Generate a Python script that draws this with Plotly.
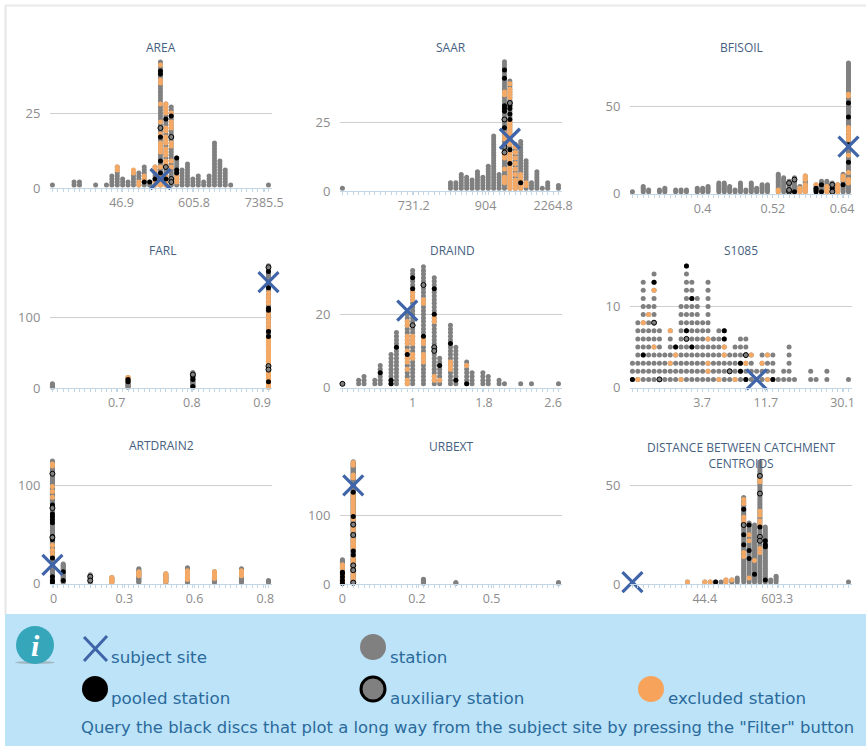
import plotly.graph_objects as go

# ---------- data: columns, stack heights, and the rows that carry a status ----------
AREA_cols = [0,4,5,8,10,11,12,13,14,15,16,17,18,19,20,21,22,23,24,25,26,27,28,29,30,31,32,33,40]
AREA_counts = [1,2,2,1,1,4,7,3,2,5,5,7,2,7,42,28,27,10,6,8,3,4,2,4,15,9,6,1,1]
AREA_pooled = {17:[2],18:[2],19:[3],20:[39,38,17,9,5],21:[23,3],23:[10,6,5],22:[24]}
AREA_aux = {20:[20],21:[7],22:[17,3,2]}
AREA_excl = {12:[7,6],15:[6,5],16:[2,1],17:[4,3],19:[7,6,2,1],20:[41,36,35,28,22,18,15,14,13,12,7,4,3,2,1],
             21:[28,27,26,25,20,19,17,16,15,13,12,11,9,8,4,2,1],22:[25,22,21,20,15,14,9,7],23:[4,3,2]}
AREA_subject = (20, 3)

SAAR_cols = [0,20,21,22,23,24,25,26,27,28,29,30,31,32,33,34,35,36,37,38,40]
SAAR_counts = [1,3,3,6,5,4,7,5,9,20,6,47,40,17,18,11,3,7,1,3,2]
SAAR_pooled = {30:[44,41,31,30,29,26,23],31:[31,30,28,26,15,10],33:[3]}
SAAR_aux = {30:[26,16,14],31:[32]}
SAAR_excl = {30:[36,35,21,20,19,13,12,8,5,4,3],31:[39,37,36,35,34,25,24,23,22,21,20,19,18,17,14,13,12,11,9,8,7,6,5,4,3,2,1],
             32:[16,14,12,10,8,6,4,3,2,1],33:[6,5,4,2,1],34:[3,2]}
SAAR_subject = (31, 19)

BFISOIL_cols = [0,2,3,5,6,8,9,10,12,13,14,16,17,18,19,20,21,22,23,24,25,27,28,29,30,31,32,34,35,36,37,38,39,40]
BFISOIL_counts = [1,4,2,2,3,2,2,2,3,3,4,6,6,4,2,6,2,6,3,5,5,11,9,7,9,4,10,5,7,7,6,5,11,75]
BFISOIL_pooled = {30:[1],34:[1,2,3],35:[1,5],37:[3],39:[5],40:[18,44,52,28]}
BFISOIL_aux = {29:[1,2,6],30:[8],37:[1,5]}
BFISOIL_excl = {27:[2,1],31:[3,2,1],32:[10,9,8,5,4,3,2,1],34:[5],36:[4,3,2,1],38:[5,4,3,2,1],39:[10,9,8],
                40:[57,56,38,37,35,33,31,22,12,8,7,6]}
BFISOIL_subject = (40, 27)

FARL_cols = [0,14,26,40]
FARL_counts = [6,15,22,173]
FARL_pooled = {14:[12,9],26:[2,12,17],40:[165,142,113,110,80,73,9]}
FARL_aux = {26:[19],40:[171,31,26]}
FARL_excl = {14:[15,14,13],
             40:[135,130,125,120,105,100,95,90,85,70,68,66,64,62,60,58,56,54,52,50,48,46,44,42,40,38,36,34,32,22,20,18,16,14,12,7,5,3,1]}
FARL_subject = (40, 150)

DRAIND_cols = [0,3,4,6,7,9,10,12,13,15,17,18,20,21,23,24,26,27,29,30,33,35,40]
DRAIND_counts = [1,2,3,2,6,9,15,20,32,33,30,8,17,11,7,4,4,3,2,1,1,1,1]
DRAIND_pooled = {7:[4],9:[2,1],10:[11],12:[9],13:[30,27],15:[14],17:[27,20],18:[6],20:[12],21:[2],23:[1]}
DRAIND_aux = {0:[1],13:[17],15:[28],17:[11,10]}
DRAIND_excl = {12:[18,17,14,13,12,10,8,7,5,2,1],13:[26,25,24,14,13,12,9,8],15:[24,23,13,12,9,8,7],
               17:[19,18,3,2],18:[2],20:[7,6,5],23:[6]}
DRAIND_subject = (12, 21)

S1085_cols = [0,1,2,3,4,5,6,7,8,9,10,11,12,13,14,15,16,17,18,19,20,21,22,23,24,25,26,27,28,29,30,33,34,36,40]
S1085_counts = [3,8,13,10,14,7,4,7,5,10,15,13,11,8,13,6,7,7,4,5,6,6,4,2,4,4,4,1,2,5,1,2,1,2,1]
S1085_pooled = {10:[15,7],4:[13],11:[11,5],17:[7,6],8:[5],2:[4],20:[3,2],0:[1],21:[1],26:[1]}
S1085_aux = {4:[8],10:[6],21:[4],18:[2],5:[1]}
S1085_excl = {4:[12,5],3:[9],2:[8],7:[7,3],14:[6,3,2],17:[5,4],8:[4],22:[4],25:[4,1],21:[3],24:[3],1:[1],9:[1],16:[1],19:[1]}
S1085_subject = (23, 1)

ARTDRAIN2_cols = [0,2,7,11,16,21,25,30,35,40]
ARTDRAIN2_counts = [125,20,9,6,15,10,16,12,15,3]
ARTDRAIN2_pooled = {0:[80,71,68,65,62,48,45,26,7,3,1],2:[12,3]}
ARTDRAIN2_aux = {0:[112,77,47],7:[7,3]}
ARTDRAIN2_excl = {0:[122,120,99,94,88,39,34,30],11:[6,5,4,3,2,1],16:[12,11,10,9,8],21:[10,9,7,6,5,3,2],
                  25:[13,12,11,9,8,7,5,4],30:[12,11,10,9,8,7,6,5],35:[13,12,11,9,8]}
ARTDRAIN2_subject = (0, 19)

URBEXT_cols = [0,2,15,21,40]
URBEXT_counts = [35,177,7,2,2]
URBEXT_pooled = {0:[17,15,10,5,1],2:[133,98,48,42]}
URBEXT_aux = {2:[86,71,27,20,2]}
URBEXT_excl = {0:[28,25,22,12,8,3],
               2:[176,172,158,154,130,126,122,118,114,110,106,102,94,82,78,64,62,60,58,56,54,52,38,34,30,24,16,12,8,5]}
URBEXT_subject = (2, 143)

DISTANCE_cols = [10.2,13.4,14.4,15.4,16.4,17.3,18.4,19.4,20.6,21.6,22.6,23.6,24.6,25.6,26.6,40]
DISTANCE_counts = [1,1,1,1,1,2,2,3,44,31,30,62,29,2,4,1]
DISTANCE_pooled = {15.4:[1],20.6:[38,25,20],21.6:[30,17,13],22.6:[5],23.6:[29],24.6:[22,20,19,2]}
DISTANCE_aux = {20.6:[30],23.6:[55,46,24,22]}
DISTANCE_excl = {10.2:[1],13.4:[1],14.4:[1],17.3:[2,1],18.4:[2],20.6:[43,41,34,32,16,14],21.6:[25,22,3],
                 22.6:[12],23.6:[53,52,37,35,32,30,18,16]}
DISTANCE_subject = (0, 1)

TITLES = ["AREA","SAAR","BFISOIL","FARL","DRAIND","S1085","ARTDRAIN2","URBEXT",
          "DISTANCE BETWEEN CATCHMENT<br>CENTROIDS"]
GRID_VALUES = [25,25,50,100,20,10,100,100,50]
TICK_LABELS = [["46.9","605.8","7385.5"],["731.2","904","2264.8"],["0.4","0.52","0.64"],
               ["0.7","0.8","0.9"],["1","1.8","2.6"],["3.7","11.7","30.1"],
               ["0","0.3","0.6","0.8"],["0","0.2","0.5"],["44.4","603.3"]]
TICK_POSITIONS = [[12.8,26.2,39.2],[13.2,26.5,39],[13,26,38.8],
                  [11.9,25.8,38.8],[13,26.2,39],[12.9,24.7,38.9],
                  [0.2,13.3,26.3,39.4],[0,13.8,27.6],[13.4,26.8]]

PANELS = [
 (AREA_cols,AREA_counts,AREA_pooled,AREA_aux,AREA_excl,AREA_subject),
 (SAAR_cols,SAAR_counts,SAAR_pooled,SAAR_aux,SAAR_excl,SAAR_subject),
 (BFISOIL_cols,BFISOIL_counts,BFISOIL_pooled,BFISOIL_aux,BFISOIL_excl,BFISOIL_subject),
 (FARL_cols,FARL_counts,FARL_pooled,FARL_aux,FARL_excl,FARL_subject),
 (DRAIND_cols,DRAIND_counts,DRAIND_pooled,DRAIND_aux,DRAIND_excl,DRAIND_subject),
 (S1085_cols,S1085_counts,S1085_pooled,S1085_aux,S1085_excl,S1085_subject),
 (ARTDRAIN2_cols,ARTDRAIN2_counts,ARTDRAIN2_pooled,ARTDRAIN2_aux,ARTDRAIN2_excl,ARTDRAIN2_subject),
 (URBEXT_cols,URBEXT_counts,URBEXT_pooled,URBEXT_aux,URBEXT_excl,URBEXT_subject),
 (DISTANCE_cols,DISTANCE_counts,DISTANCE_pooled,DISTANCE_aux,DISTANCE_excl,DISTANCE_subject),
]

# ---------- layout geometry (pixels) ----------
W, H = 866, 746
LEFT = [50, 340, 630]
PLOT_W = 222
TOPS = [55, 258, 455]
ZERO_Y = [188,191,193.5,388,387.5,387.5,583.5,584,584]
PX_PER_UNIT = [3,2.75,1.74,0.706,3.66,8.1,0.98,0.69,1.966]
TITLE_XY = [(161,47),(451,47),(741,47),(162,250),(452,250),(741,250),(161,446),(451,447),(741,455)]

GREY="#808080"; ORANGE="#f4aa66"; BLACK="#000000"; BLUE="#3f64a8"; PANEL="#bce3f7"
TITLE_C="#46607f"; TICK_C="#8c8c8c"; TEXT_C="#2a6a9c"; FONT="Open Sans"; LEG_FONT="DejaVu Sans"

def px(x): return x/W
def py(y): return 1-y/H

def flatten(d):
    xs,ys=[],[]
    for col,rows in d.items():
        xs += [col]*len(rows); ys += rows
    return xs,ys

fig = go.Figure()
layout = dict(width=W,height=H,autosize=False,margin=dict(l=0,r=0,t=0,b=0,pad=0,autoexpand=False),paper_bgcolor="white",plot_bgcolor="rgba(0,0,0,0)",
              showlegend=False,font=dict(family=FONT,color=TICK_C))
shapes=[]; annotations=[]

# page frame and info band
shapes.append(dict(type="line",xref="paper",yref="paper",x0=px(5.5),x1=px(5.5),y0=py(5),y1=py(614),line=dict(color="#e6e6e6",width=2)))
shapes.append(dict(type="line",xref="paper",yref="paper",x0=px(5),x1=1,y0=py(5.5),y1=py(5.5),line=dict(color="#e9e9e9",width=2)))
shapes.append(dict(type="rect",xref="paper",yref="paper",x0=px(5),x1=1,y0=py(614),y1=0,fillcolor=PANEL,line=dict(width=0),layer="below"))

for i,(cols,counts,pooled,aux,excl,subj) in enumerate(PANELS):
    n=i+1; suffix="" if n==1 else str(n)
    xl=LEFT[i%3]; top=TOPS[i//3]; y0=ZERO_Y[i]; s=PX_PER_UNIT[i]
    xs,ys=[],[]
    for c,k in zip(cols,counts):
        xs += [c]*k; ys += list(range(1,k+1))
    ref=dict(xaxis="x"+suffix,yaxis="y"+suffix,mode="markers",cliponaxis=False,hoverinfo="skip")
    fig.add_trace(go.Scatter(x=xs,y=ys,name="station",marker=dict(size=5,color=GREY),**ref))
    ex,ey=flatten(excl)
    fig.add_trace(go.Scatter(x=ex,y=ey,name="excluded station",marker=dict(size=5,color=ORANGE),**ref))
    bx,by=flatten(pooled)
    fig.add_trace(go.Scatter(x=bx,y=by,name="pooled station",marker=dict(size=5,color=BLACK),**ref))
    ax,ay=flatten(aux)
    fig.add_trace(go.Scatter(x=ax,y=ay,name="auxiliary station",marker=dict(size=5,color=GREY,line=dict(color=BLACK,width=1)),**ref))
    fig.add_trace(go.Scatter(x=[subj[0]],y=[subj[1]],name="subject site",
                             marker=dict(symbol="x-thin",size=20,line=dict(color=BLUE,width=3.2)),**ref))
    layout["xaxis"+suffix]=dict(domain=[px(xl),px(xl+PLOT_W)],range=[-0.45,40.65],anchor="y"+suffix,
        showgrid=False,zeroline=False,showline=True,linecolor="#c3d6e6",linewidth=1,
        tickmode="array",tickvals=TICK_POSITIONS[i],ticktext=TICK_LABELS[i],ticks="outside",ticklen=3,tickcolor="#c3d6e6",
        tickfont=dict(size=12.5,color=TICK_C,family=FONT),
        minor=dict(tickmode="linear",tick0=0,dtick=1,ticks="outside",ticklen=3,tickcolor="#c3d6e6",showgrid=False))
    layout["yaxis"+suffix]=dict(domain=[py(y0),py(top)],range=[0,(y0-top)/s],anchor="x"+suffix,
        showline=False,zeroline=False,showgrid=True,gridcolor="#cfcfcf",gridwidth=1,
        tickmode="array",tickvals=[0,GRID_VALUES[i]],ticks="outside",ticklen=6,tickcolor="rgba(0,0,0,0)",
        tickfont=dict(size=13,color=TICK_C,family=FONT))
    tx,ty=TITLE_XY[i]
    annotations.append(dict(xref="paper",yref="paper",x=px(tx),y=py(ty),text=TITLES[i],showarrow=False,
                            xanchor="center",yanchor="middle",font=dict(size=12,color=TITLE_C,family=FONT)))

# legend band: glyphs
def circle(cx,cy,r,fill,line=None,lw=0):
    shapes.append(dict(type="circle",xref="paper",yref="paper",x0=px(cx-r),x1=px(cx+r),y0=py(cy+r),y1=py(cy-r),
                       fillcolor=fill,line=dict(color=line or fill,width=lw)))
circle(373,647,13,GREY)
circle(95,689,13,BLACK)
circle(373,689,12,GREY,BLACK,3)
circle(651,689,13,"#f7a35c")
for (a,b,c,d) in [(84,637,107,661),(107,636,84,661)]:
    shapes.append(dict(type="line",xref="paper",yref="paper",x0=px(a),y0=py(b),x1=px(c),y1=py(d),line=dict(color=BLUE,width=3)))
# info icon
shapes.append(dict(type="circle",xref="paper",yref="paper",x0=px(15),x1=px(55),y0=py(664),y1=py(661),fillcolor="#9fb6bf",line=dict(width=0)))
circle(35,645,19,"#36a7bb")
annotations.append(dict(xref="paper",yref="paper",x=px(35),y=py(645),text="<b><i>i</i></b>",showarrow=False,
                        xanchor="center",yanchor="middle",font=dict(size=30,color="white",family="Liberation Serif")))
LEGEND_TEXT=[("subject site",109,657,16.7),("station",388,657,16.7),("pooled station",109,698,16.7),
             ("auxiliary station",388,698,16.7),("excluded station",666,698,16.7),
             ('Query the black discs that plot a long way from the subject site by pressing the "Filter" button',79,727,16.4)]
for t,x,y,fs in LEGEND_TEXT:
    annotations.append(dict(xref="paper",yref="paper",x=px(x),y=py(y),text=t,showarrow=False,xanchor="left",yanchor="middle",
                            font=dict(size=fs,color=TEXT_C,family=LEG_FONT)))

layout["shapes"]=shapes; layout["annotations"]=annotations
fig.update_layout(**layout)
fig.write_html("out.html",config=dict(responsive=False,displayModeBar=False),default_width="866px",default_height="746px",
               post_script="document.body.style.margin='0';document.body.style.overflow='hidden';")
